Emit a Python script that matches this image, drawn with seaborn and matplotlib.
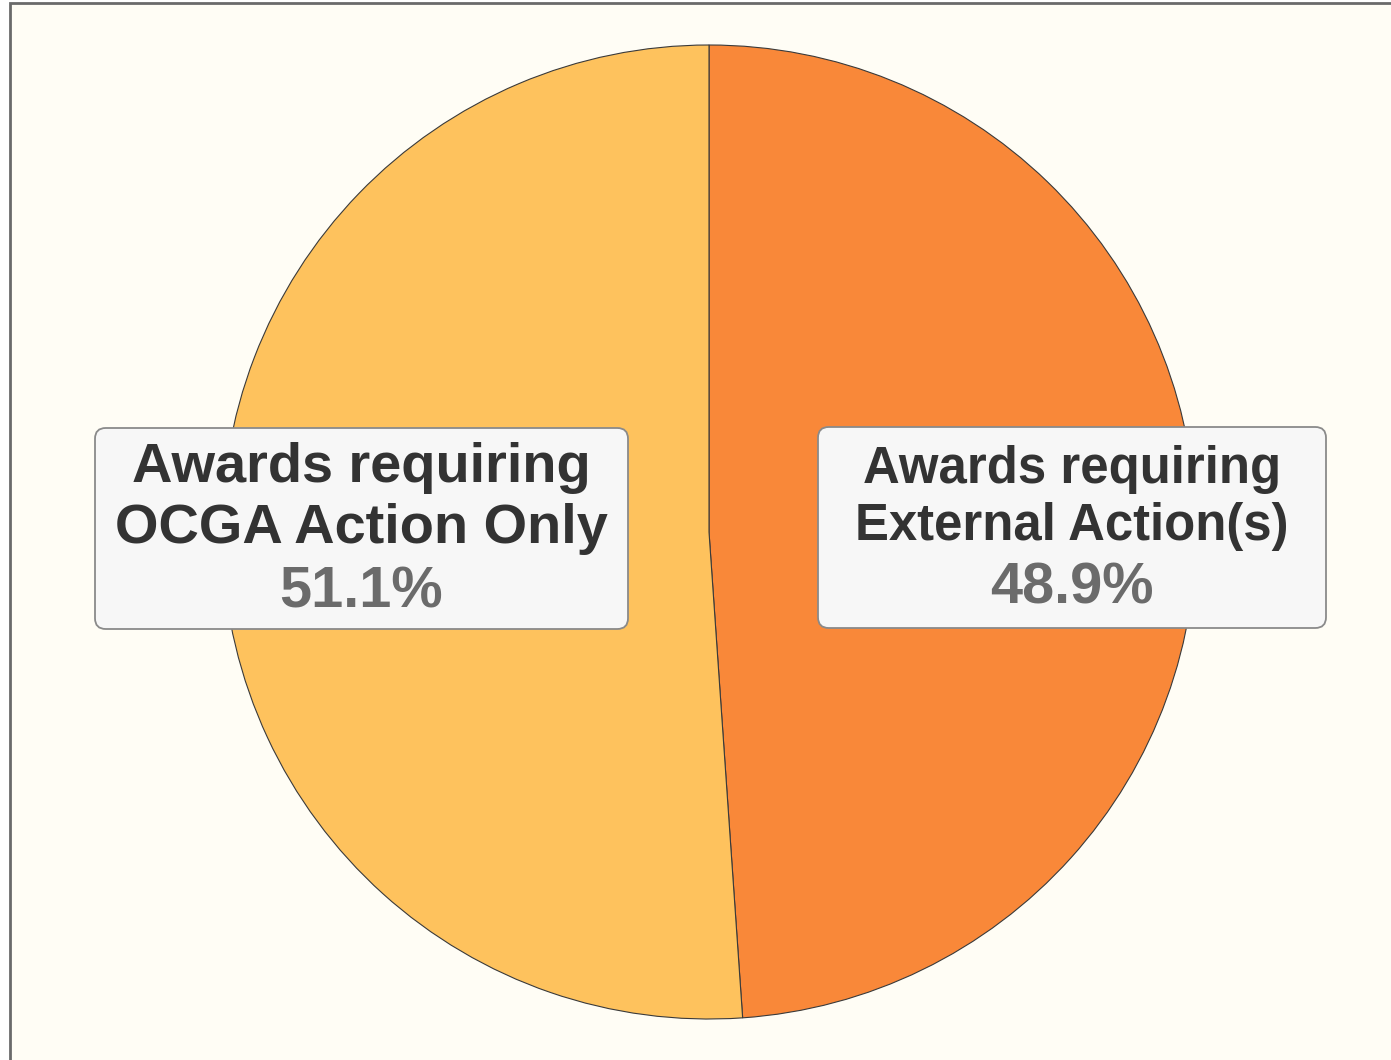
import matplotlib.pyplot as plt
import seaborn as sns
from matplotlib.patches import Rectangle, FancyBboxPatch

# data
categories = ['Awards requiring\nExternal Action(s)', 'Awards requiring\nOCGA Action Only']
shares = [48.9, 51.1]
slice_colors = ['#F98839', '#FEC25D']

sns.set_theme(style='white')
plt.rcParams['font.family'] = ['Liberation Sans', 'DejaVu Sans']

W, H = 1391, 1060
fig = plt.figure(figsize=(W / 100, H / 100), dpi=100)
fig.patch.set_facecolor('white')

# framed ivory panel (border on left/top only is visible)
fig.patches.append(Rectangle((10 / W, -0.05), 1.1, (H - 3) / H + 0.05,
                             transform=fig.transFigure, facecolor='#FFFDF5',
                             edgecolor='#6a6a6a', linewidth=2.0, zorder=-10))

cx, cy, r = 709, 532, 487
ax = fig.add_axes([(cx - r) / W, (H - cy - r) / H, 2 * r / W, 2 * r / H])
ax.set_facecolor('none')
ax.pie(shares, colors=slice_colors, startangle=90, counterclock=False,
       wedgeprops={'edgecolor': '#3a3a3a', 'linewidth': 0.8})
ax.set_xlim(-1, 1)
ax.set_ylim(-1, 1)
ax.set_aspect('equal')
ax.axis('off')


def py(y):
    return (cy - y) / r


def px(x):
    return (x - cx) / r


# label boxes: (left, top, right, bottom) in pixels, baselines, font size
boxes = [
    ((818, 427, 1326, 628), (483, 540, 604), 36.6),
    ((95, 428, 628, 629), (482, 543, 608), 40.3),
]
for (lab, val), (box, bases, fs) in zip(zip(categories, shares), boxes):
    x0, y0, x1, y1 = box
    ax.add_patch(FancyBboxPatch((px(x0), py(y1)), px(x1) - px(x0), py(y0) - py(y1),
                                boxstyle='round,pad=0,rounding_size=0.022',
                                facecolor='#F7F7F7', edgecolor='#8a8a8a',
                                linewidth=1.3, clip_on=False, zorder=3))
    xm = px((x0 + x1) / 2)
    line1, line2 = lab.split('\n')
    ax.text(xm, py(bases[0]), line1, ha='center', va='baseline', fontsize=fs,
            fontweight='bold', color='#333333', zorder=4)
    ax.text(xm, py(bases[1]), line2, ha='center', va='baseline', fontsize=fs,
            fontweight='bold', color='#333333', zorder=4)
    ax.text(xm, py(bases[2]), f'{val:.1f}%', ha='center', va='baseline', fontsize=41.6,
            fontweight='bold', color='#6b6b6b', zorder=4)

fig.savefig('out.png', dpi=100, facecolor=fig.get_facecolor())
